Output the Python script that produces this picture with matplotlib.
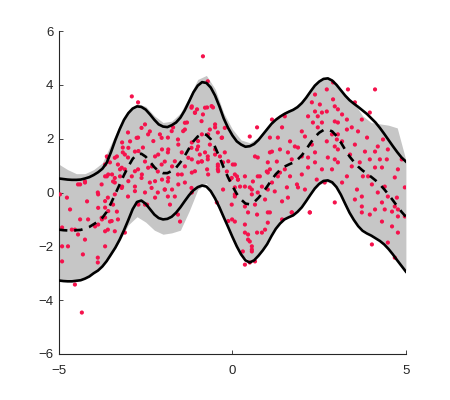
import numpy as np
import matplotlib
matplotlib.use("Agg")
import matplotlib.pyplot as plt

plt.rcParams['font.family'] = ['Liberation Sans', 'DejaVu Sans']

# curve grid (step 0.125)
xs = [-5.0, -4.875, -4.75, -4.625, -4.5, -4.375, -4.25, -4.125, -4.0, -3.875,
      -3.75, -3.625, -3.5, -3.375, -3.25, -3.125, -3.0, -2.875, -2.75, -2.625,
      -2.5, -2.375, -2.25, -2.125, -2.0, -1.875, -1.75, -1.625, -1.5, -1.375,
      -1.25, -1.125, -1.0, -0.875, -0.75, -0.625, -0.5, -0.375, -0.25, -0.125,
      0.0, 0.125, 0.25, 0.375, 0.5, 0.625, 0.75, 0.875, 1.0, 1.125,
      1.25, 1.375, 1.5, 1.625, 1.75, 1.875, 2.0, 2.125, 2.25, 2.375,
      2.5, 2.625, 2.75, 2.875, 3.0, 3.125, 3.25, 3.375, 3.5, 3.625,
      3.75, 3.875, 4.0, 4.125, 4.25, 4.375, 4.5, 4.625, 4.75, 4.875, 5.0]

upper = [0.52, 0.50, 0.48, 0.47, 0.47, 0.48, 0.52, 0.57, 0.65, 0.75,
         0.88, 1.10, 1.50, 1.95, 2.35, 2.70, 2.95, 3.12, 3.20, 3.18,
         3.08, 2.90, 2.70, 2.53, 2.45, 2.43, 2.50, 2.60, 2.78, 3.05,
         3.38, 3.72, 3.97, 4.10, 4.07, 3.90, 3.60, 3.20, 2.75, 2.40,
         2.12, 1.90, 1.78, 1.70, 1.72, 1.80, 1.95, 2.15, 2.35, 2.55,
         2.70, 2.82, 2.92, 3.00, 3.07, 3.17, 3.32, 3.52, 3.75, 3.97,
         4.12, 4.22, 4.24, 4.16, 4.00, 3.80, 3.60, 3.43, 3.30, 3.18,
         3.05, 2.92, 2.76, 2.60, 2.40, 2.18, 1.95, 1.72, 1.50, 1.30, 1.15]

lower = [-3.27, -3.29, -3.30, -3.30, -3.28, -3.26, -3.20, -3.12, -3.00, -2.90,
         -2.75, -2.55, -2.30, -2.05, -1.75, -1.40, -1.02, -0.62, -0.35, -0.30,
         -0.42, -0.62, -0.82, -0.95, -1.00, -0.98, -0.90, -0.75, -0.55, -0.32,
         -0.10, 0.08, 0.20, 0.26, 0.22, 0.05, -0.22, -0.55, -0.92, -1.28,
         -1.65, -2.00, -2.30, -2.52, -2.60, -2.52, -2.35, -2.15, -1.92, -1.62,
         -1.35, -1.15, -1.00, -0.92, -0.85, -0.72, -0.55, -0.32, -0.08, 0.15,
         0.32, 0.43, 0.45, 0.38, 0.20, -0.08, -0.42, -0.75, -1.02, -1.25,
         -1.42, -1.52, -1.60, -1.70, -1.80, -1.93, -2.10, -2.30, -2.52, -2.73, -2.94]

mean = [-1.38, -1.40, -1.41, -1.42, -1.40, -1.39, -1.34, -1.28, -1.18, -1.08,
        -0.94, -0.72, -0.40, -0.05, 0.30, 0.65, 0.97, 1.25, 1.42, 1.44,
        1.33, 1.14, 0.94, 0.79, 0.72, 0.72, 0.80, 0.92, 1.12, 1.36,
        1.64, 1.90, 2.08, 2.18, 2.14, 1.98, 1.69, 1.32, 0.92, 0.56,
        0.24, -0.05, -0.26, -0.41, -0.44, -0.36, -0.20, 0.00, 0.22, 0.46,
        0.68, 0.84, 0.96, 1.04, 1.11, 1.22, 1.38, 1.60, 1.84, 2.06,
        2.22, 2.32, 2.34, 2.27, 2.10, 1.86, 1.59, 1.34, 1.14, 0.96,
        0.82, 0.70, 0.58, 0.45, 0.30, 0.12, -0.08, -0.29, -0.51, -0.72, -0.90]

# grey band (step 0.25, a bit wider than the black bounds in places)
band_x = [-5.0, -4.75, -4.5, -4.25, -4.0, -3.75, -3.5, -3.25, -3.0, -2.75,
          -2.5, -2.25, -2.0, -1.75, -1.5, -1.25, -1.0, -0.75, -0.5, -0.25,
          0.0, 0.25, 0.5, 0.75, 1.0, 1.25, 1.5, 1.75, 2.0, 2.25,
          2.5, 2.75, 3.0, 3.25, 3.5, 3.75, 4.0, 4.25, 4.5, 4.75, 5.0]

band_hi = [1.05, 0.85, 0.7, 0.7, 0.85, 1.1, 1.8, 2.5, 3.0, 3.3,
           3.2, 2.85, 2.6, 2.65, 2.95, 3.55, 4.2, 4.35, 3.85, 2.95,
           2.35, 1.95, 1.85, 2.05, 2.45, 2.8, 3.0, 3.15, 3.4, 3.85,
           4.2, 4.3, 4.05, 3.65, 3.35, 2.85, 2.6, 2.55, 2.5, 2.4, 1.2]

band_lo = [-3.3, -3.3, -3.25, -3.2, -3.0, -2.75, -2.35, -1.8, -1.2, -0.9,
           -1.1, -1.4, -1.55, -1.5, -1.4, -0.7, 0.1, 0.35, -0.35, -1.0,
           -1.65, -2.3, -2.55, -2.35, -1.9, -1.3, -0.95, -0.8, -0.5, -0.05,
           0.3, 0.4, 0.2, -0.4, -1.0, -1.35, -1.55, -1.75, -2.05, -2.5, -2.9]

pt_x = [-3.18, -3.10, -3.30, -3.59, -3.10, -3.24, -3.47, -3.39, -3.18, -3.67,
        -4.25, -4.45, -4.97, -4.77, -3.88, -4.19, -3.59, -3.44, -4.68, -3.67,
        -3.33, -4.39, -4.16, -3.76, -3.67, -3.53, -3.30, -4.91, -4.63, -4.45,
        -4.54, -3.96, -3.59, -3.10, -4.25, -4.91, -4.74, -3.67, -4.31, -3.88,
        -4.91, -3.88, -4.54, -4.34, -4.39, -4.25, -3.62, -3.53, -3.33, -3.16,
        -3.24, -3.44, -3.62, -3.01, -3.16,
        -2.90, -2.72, -1.17, -1.08, -1.31, -2.52, -2.38, -1.71, -1.37, -2.09,
        -1.86, -2.72, -2.95, -1.57, -1.17, -1.02, -2.58, -2.81, -2.03, -1.86,
        -1.46, -2.23, -3.01, -2.52, -1.95, -1.17, -2.32, -1.74, -1.37, -2.72,
        -2.15, -2.61, -1.57, -1.17, -2.90, -2.03, -1.86, -2.38, -1.37, -2.81,
        -1.95, -1.74, -2.52, -2.15, -3.01, -2.23, -1.86, -1.66, -2.52, -1.80,
        -1.57, -1.51, -1.17, -2.46,
        -0.85, -0.71, -1.02, -0.73, -0.56, -0.85, 0.71, 0.50, -0.65, -0.50,
        -0.42, -0.88, -0.30, -0.99, -0.65, -0.50, -0.79, -0.22, -0.36, -0.71,
        -0.99, -0.42, -0.27, 0.07, 0.73, 1.02, -0.73, -0.16, -0.42, 0.13,
        0.16, 0.36, 0.79, -0.07, 0.99, 0.59, 0.07, 0.22, 0.50, 0.85,
        0.07, 0.56,
        -0.94, -0.71, -0.42, 0.01, -0.88, 0.65, 1.08, 0.73, 1.02, 0.07,
        0.16, 0.36, 0.56, 0.73, 1.02, -0.27, 0.07, 0.94, 0.65, 0.36,
        1.02, 0.45, 0.71, -0.45, -0.01, 0.07, 0.36, 0.94, 0.85, 0.45,
        0.50, 0.56, 0.30, 0.56, 0.36, 0.50,
        2.23, 1.71, 1.43, 1.02, 0.71, 0.45, 0.36, 0.56, 0.65, 4.02,
        4.48, 4.68, 4.31, 3.73, 4.39, 4.77, 4.60, 4.77,
        2.90, 2.72, 2.38, 2.90, 2.52, 2.95, 2.38, 2.72, 2.46, 2.18,
        2.95, 2.58, 2.32, 1.51, 1.14, 1.43, 2.00, 2.46, 2.87, 3.01,
        1.08, 1.31, 1.66, 2.72, 1.37, 1.89, 2.29, 2.95, 1.14, 1.60,
        2.38, 2.00, 1.71, 2.75, 2.95, 1.28, 2.38, 1.08, 1.51, 2.18,
        2.87, 1.31, 1.66, 2.00, 2.43, 1.14, 1.86, 1.57, 1.89, 1.22,
        1.60, 1.08, 1.71, 2.23, 2.95,
        3.33, 4.11, 3.96, 3.04, 3.16, 3.30, 3.04, 3.44, 3.62, 3.30,
        3.04, 3.88, 4.34, 3.16, 3.53, 3.04, 3.82, 4.11, 3.39, 4.25,
        4.45, 3.96, 3.04, 3.67, 3.44, 4.11, 4.31, 3.30, 3.76, 4.68,
        3.16, 4.02, 3.59, 4.19, 4.97, 3.73, 4.48, 4.74, 4.31, 3.73,
        4.68, 3.96, 4.60, 4.97,
        -2.62, -2.43, -2.76, -2.28, -2.04, -1.75, -1.42, -1.37, -1.18, -1.08,
        -0.79, -0.60, -0.89, -0.50, -0.22, -0.31, -0.70, -0.99, -1.18, -1.56,
        -1.85, -2.14, -2.71, -3.00, -3.39, -3.67, -3.19, -2.81, -2.43, -2.04,
        -1.66, -1.27, -0.89, -0.50, -0.12, -0.02, -0.41, -0.70, -1.08, -1.46,
        -1.85, -2.23, -2.62, -3.00, -3.39, -3.58, -3.77, -3.19, -2.81, -2.33,
        -1.95, -1.56, -1.18, -3.87, -3.67, -3.39, -3.87, -3.58, -3.77, -3.48,
        -3.87, -3.39, -3.67, -2.71, -0.12, -0.02,
        2.29, 2.58, 2.09, 1.80, 2.18, 1.37, 2.58, 2.66, 2.09, 1.43,
        3.53, 3.73, 4.19, 4.48, 4.77, 4.88, 3.91, 4.39, 3.53, 4.11, 4.77]

pt_y = [1.86, 1.41, 1.04, 1.30, 0.86, 0.60, 0.67, 0.37, 0.22, 0.60,
        0.37, 0.30, -0.07, -0.19, 0.00, -0.33, -0.19, -0.45, -0.63, -0.56,
        -0.71, -1.00, -1.00, -1.00, -0.93, -1.08, -1.00, -1.30, -1.38, -1.56,
        -1.38, -1.26, -1.38, -1.49, -1.75, -2.00, -2.00, -2.00, -2.30, -2.42,
        -2.56, -2.60, -3.42, -4.46, 0.30, 0.41, 1.34, 1.12, 1.34, 1.49,
        0.86, 0.41, 0.60, 2.23, 1.67,
        3.57, 3.35, 3.20, 2.97, 2.60, 2.53, 2.27, 2.42, 2.34, 2.16,
        2.04, 2.04, 1.90, 1.97, 1.86, 1.60, 1.67, 1.52, 1.60, 1.49,
        1.49, 1.34, 1.30, 1.15, 1.15, 1.23, 0.97, 0.97, 0.97, 0.86,
        0.78, 0.67, 0.67, 0.74, 0.60, 0.48, 0.41, 0.37, 0.37, 0.22,
        0.11, 0.11, 0.00, 0.00, -0.15, -0.19, -0.15, -0.15, -0.45, -0.45,
        -0.82, -1.08, 0.00, -0.45,
        5.06, 4.13, 3.09, 3.16, 3.16, 2.90, 2.42, 2.08, 2.34, 2.42,
        2.23, 2.16, 2.04, 1.71, 1.78, 1.60, 1.49, 1.49, 1.34, 1.23,
        1.12, 1.04, 1.12, 1.04, 1.30, 1.12, 0.86, 0.78, 0.86, 0.60,
        0.48, 0.60, 0.60, 0.48, 0.78, 0.41, 0.19, 0.22, 0.19, 0.22,
        -0.15, -0.07,
        1.41, 1.34, 0.97, 1.04, 1.15, 1.34, 1.49, 0.60, 0.74, 0.67,
        0.48, 0.22, 0.11, 0.00, 0.11, 0.11, -0.07, -0.26, -0.45, -0.52,
        -0.74, -0.74, -0.82, -0.37, -1.00, -1.08, -1.19, -1.38, -1.49, -1.56,
        -1.82, -2.00, -2.19, -2.12, -2.68, -2.60,
        -0.74, -0.74, -1.00, -1.12, -1.49, -1.75, -1.49, -2.19, -2.56, -1.93,
        -1.86, -2.42, -1.08, -0.74, -0.63, -0.63, -1.26, -1.49,
        4.09, 3.83, 3.64, 3.46, 3.27, 3.20, 3.01, 3.01, 2.83, 2.83,
        2.64, 2.60, 2.60, 2.83, 2.71, 2.42, 2.27, 2.42, 2.16, 1.97,
        2.04, 2.04, 1.90, 1.90, 1.60, 1.67, 1.78, 1.71, 1.52, 1.49,
        1.49, 1.34, 1.23, 1.30, 1.23, 1.15, 1.12, 0.86, 0.86, 0.93,
        0.86, 0.60, 0.60, 0.67, 0.48, 0.37, 0.30, 0.19, 0.19, 0.04,
        -0.19, -0.74, -0.74, -0.74, -0.37,
        3.83, 3.83, 2.97, 3.09, 2.90, 2.71, 2.60, 2.42, 2.27, 2.34,
        2.16, 2.04, 1.97, 1.90, 1.78, 1.60, 1.52, 1.52, 1.41, 1.23,
        1.23, 1.23, 1.12, 1.12, 0.97, 0.93, 0.93, 0.60, 0.60, 0.56,
        0.37, 0.30, 0.11, 0.00, 0.19, -0.15, -0.15, -0.19, -0.37, -0.52,
        -0.52, -0.82, -0.71, -0.89,
        2.40, 2.16, 2.03, 1.91, 2.03, 2.28, 2.28, 2.59, 3.15, 2.96,
        3.15, 3.21, 2.65, 2.53, 2.40, 2.03, 2.16, 1.91, 1.66, 1.78,
        1.60, 1.41, 1.54, 1.66, 1.29, 1.04, 0.92, 0.79, 0.92, 1.04,
        1.16, 1.29, 1.16, 1.41, 1.16, 0.54, 0.79, 0.67, 0.79, 0.67,
        0.54, 0.42, 0.54, 0.42, 0.54, 0.67, 0.30, 0.17, 0.05, 0.17,
        0.11, 0.30, 0.17, -0.07, -0.32, -0.07, -0.57, -0.69, -0.94, -1.06,
        -1.19, -1.44, -1.44, -0.45, -1.06, -0.45,
        3.35, 2.97, 2.08, 1.71, 1.30, 0.74, 0.86, 0.37, 0.11, -0.33,
        3.35, 2.71, 1.71, 1.60, 0.86, 1.23, 0.60, 0.22, -0.26, -0.63, -0.89]

fig = plt.figure(figsize=(4.5, 4.0), dpi=100)
ax = fig.add_axes([0.131, 0.115, 0.771, 0.8075])

ax.fill_between(band_x, band_lo, band_hi, color='#c6c6c6', linewidth=0)
ax.scatter(pt_x, pt_y, s=9, color='#f5124c', edgecolors='none', zorder=3)
ax.plot(xs, upper, color='black', linewidth=1.9, zorder=4)
ax.plot(xs, lower, color='black', linewidth=1.9, zorder=4)
ax.plot(xs, mean, color='black', linewidth=1.9, linestyle=(0, (3.2, 2.6)), zorder=4)

ax.set_xlim(-5, 5)
ax.set_ylim(-6, 6)
ax.set_xticks([-5, 0, 5])
ax.set_yticks([-6, -4, -2, 0, 2, 4, 6])
ax.spines['top'].set_visible(False)
ax.spines['right'].set_visible(False)
for s in ['left', 'bottom']:
    ax.spines[s].set_linewidth(0.8)
    ax.spines[s].set_color('#262626')
ax.tick_params(direction='in', length=3, width=0.6, labelsize=9.5,
               colors='#262626')
ax.tick_params(axis='x', pad=8)
ax.tick_params(axis='y', pad=4)

fig.savefig('out.png', dpi=100)
plt.close('all')
